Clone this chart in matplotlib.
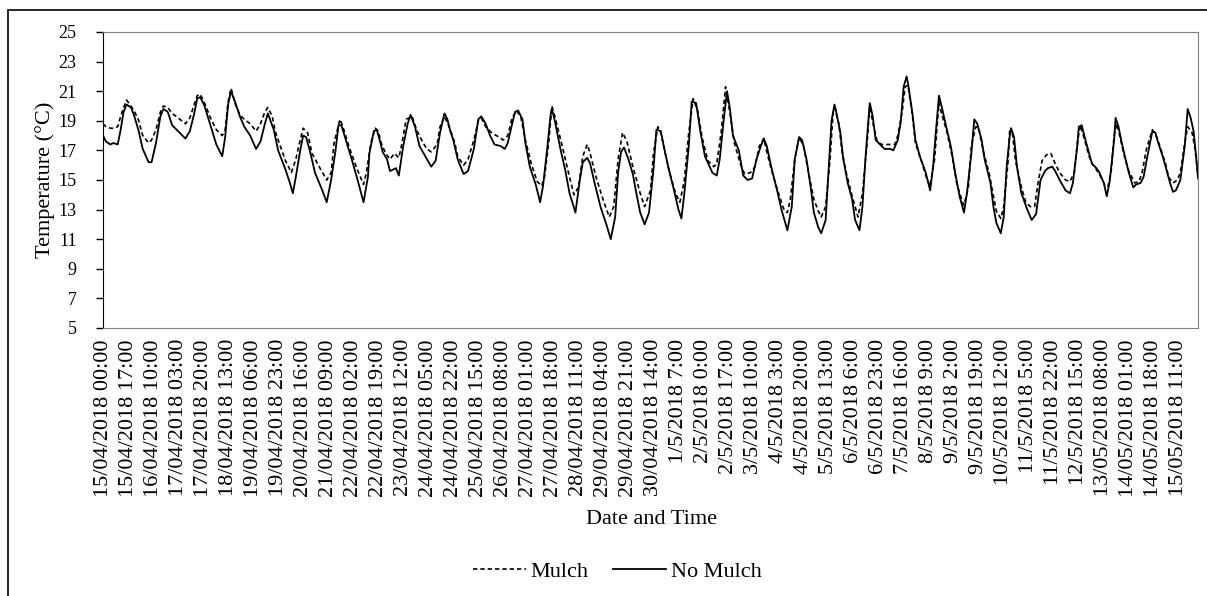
import matplotlib.pyplot as plt
from matplotlib.patches import Rectangle

plt.rcParams["font.family"] = ["Liberation Serif", "DejaVu Serif"]

# hours since 15/04/2018 00:00
nomulch_hours = [
    0, 2, 5, 7, 10, 12, 14, 16, 19, 21, 24, 27, 31, 33, 36, 39, 41, 44, 47, 51,
    56, 59, 62, 64, 66, 69, 73, 77, 81, 83, 85, 87, 90, 93, 96, 100, 104, 107, 110, 112,
    116, 119, 124, 127, 129, 131, 134, 136, 138, 141, 144, 149, 152, 155, 158, 160, 162, 165, 169, 173,
    177, 180, 181, 184, 186, 188, 190, 193, 195, 197, 199, 201, 204, 207, 209, 212, 215, 219, 223, 226,
    229, 232, 234, 236, 238, 241, 245, 248, 252, 255, 257, 260, 263, 266, 270, 273, 275, 278, 280, 282,
    285, 287, 290, 294, 297, 299, 302, 304, 305, 307, 311, 314, 317, 321, 324, 326, 329, 331, 334, 338,
    342, 345, 348, 350, 352, 354, 357, 360, 362, 365, 368, 371, 374, 376, 379, 381, 384, 388, 391, 393,
    395, 398, 400, 403, 406, 409, 414, 417, 419, 422, 424, 426, 428, 432, 435, 438, 441, 444, 447, 449,
    451, 454, 458, 461, 465, 468, 470, 473, 475, 478, 481, 483, 486, 488, 491, 493, 495, 497, 498, 501,
    503, 506, 509, 511, 514, 516, 518, 520, 521, 523, 525, 528, 531, 535, 537, 540, 542, 544, 546, 547,
    550, 552, 555, 559, 562, 564, 566, 568, 570, 572, 576, 579, 582, 585, 587, 590, 592, 594, 597, 599,
    603, 605, 607, 610, 612, 614, 616, 617, 619, 621, 624, 628, 631, 634, 637, 640, 642, 645, 647, 650,
    654, 657, 659, 662, 663, 665, 667, 670, 672, 675, 677, 680, 682, 684, 687, 688, 690, 692, 695, 697,
    700, 702, 705, 707, 710, 713, 715, 717, 720, 722, 725, 727, 729, 732, 735, 737, 739, 741, 743, 744,
]
nomulch_temp = [
    18.0, 17.6, 17.4, 17.5, 17.4, 18.4, 19.6, 20.1, 19.9, 19.4, 18.4, 17.1, 16.2, 16.2, 17.5, 19.3, 19.8, 19.6, 18.7, 18.3,
    17.8, 18.3, 19.5, 20.5, 20.6, 20.0, 18.7, 17.4, 16.6, 17.9, 20.1, 21.0, 20.2, 19.3, 18.6, 18.0, 17.1, 17.6, 18.8, 19.5,
    18.4, 17.0, 15.7, 14.8, 14.1, 15.2, 17.0, 18.0, 17.9, 16.8, 15.5, 14.3, 13.5, 15.0, 17.0, 18.7, 18.7, 17.7, 16.4, 15.0,
    13.5, 15.2, 16.8, 18.3, 18.4, 17.7, 16.9, 16.4, 15.6, 15.7, 15.8, 15.3, 17.3, 18.8, 19.4, 18.6, 17.3, 16.6, 15.9, 16.3,
    18.2, 19.5, 19.1, 18.3, 17.7, 16.4, 15.4, 15.6, 17.1, 19.1, 19.3, 18.8, 18.0, 17.4, 17.3, 17.1, 17.5, 18.8, 19.6, 19.7,
    19.1, 17.5, 15.9, 14.7, 13.5, 14.6, 17.3, 19.3, 19.8, 19.0, 17.0, 15.7, 14.1, 12.8, 15.0, 16.2, 16.5, 16.1, 14.8, 13.2,
    12.0, 11.0, 12.5, 15.5, 16.9, 17.2, 16.4, 15.4, 14.3, 12.8, 12.0, 12.8, 15.7, 18.4, 18.3, 17.3, 15.9, 14.3, 13.0, 12.4,
    14.1, 17.3, 20.3, 20.2, 18.2, 16.6, 15.5, 15.3, 16.4, 19.3, 21.0, 19.8, 18.0, 17.0, 15.3, 15.0, 15.1, 16.4, 17.3, 17.8,
    17.3, 15.9, 14.3, 13.0, 11.6, 13.2, 16.4, 17.9, 17.7, 16.4, 14.4, 12.8, 11.8, 11.4, 12.3, 15.7, 19.0, 20.1, 19.7, 18.2,
    16.4, 14.8, 13.7, 12.3, 11.6, 13.2, 16.4, 19.0, 20.2, 19.3, 17.7, 17.4, 17.1, 17.1, 17.0, 17.7, 18.9, 21.3, 22.0, 21.5,
    19.5, 17.7, 16.6, 15.5, 14.3, 15.9, 18.4, 20.7, 19.9, 19.0, 17.3, 15.5, 13.9, 12.8, 14.1, 16.8, 19.1, 18.8, 17.7, 16.4,
    14.8, 13.2, 12.1, 11.4, 12.5, 15.9, 17.9, 18.5, 17.9, 15.9, 14.1, 13.0, 12.3, 12.7, 15.0, 15.6, 15.8, 15.9, 15.6, 15.0,
    14.3, 14.1, 14.8, 17.3, 18.6, 18.7, 17.9, 16.8, 16.1, 15.8, 15.5, 14.8, 13.9, 14.9, 17.7, 19.2, 18.6, 17.6, 16.3, 15.5,
    14.5, 14.7, 14.8, 15.2, 16.8, 18.3, 18.2, 17.5, 16.6, 15.9, 14.8, 14.2, 14.3, 15.0, 17.3, 19.8, 19.2, 18.3, 16.3, 15.1,
]

mulch_hours = [
    0, 2, 5, 7, 10, 12, 14, 16, 19, 21, 24, 27, 31, 33, 36, 39, 41, 44, 47, 51,
    56, 59, 62, 64, 66, 69, 73, 77, 81, 83, 85, 87, 90, 93, 96, 100, 104, 107, 110, 112,
    115, 117, 119, 124, 128, 131, 134, 136, 139, 142, 148, 152, 155, 157, 161, 163, 167, 172, 177, 179,
    182, 185, 187, 189, 192, 195, 198, 201, 203, 206, 210, 213, 217, 220, 223, 227, 229, 232, 236, 239,
    241, 245, 248, 252, 255, 257, 260, 264, 269, 272, 275, 278, 281, 284, 287, 291, 295, 298, 300, 303,
    305, 307, 312, 316, 320, 323, 326, 329, 331, 335, 340, 344, 347, 350, 353, 356, 360, 362, 365, 368,
    372, 374, 377, 379, 382, 385, 389, 392, 395, 398, 401, 404, 407, 411, 415, 417, 420, 423, 426, 429,
    433, 436, 440, 443, 446, 449, 451, 455, 459, 463, 465, 467, 470, 473, 476, 479, 483, 486, 488, 491,
    494, 496, 497, 500, 502, 505, 508, 511, 513, 516, 519, 521, 523, 526, 529, 534, 538, 540, 543, 545,
    547, 550, 552, 556, 560, 562, 565, 568, 570, 573, 577, 580, 584, 585, 588, 590, 593, 595, 598, 602,
    605, 607, 610, 612, 615, 616, 618, 620, 624, 627, 630, 633, 635, 638, 641, 644, 647, 650, 654, 657,
    660, 662, 664, 667, 670, 672, 675, 678, 681, 683, 685, 687, 689, 691, 694, 697, 701, 704, 706, 709,
    713, 716, 719, 722, 724, 727, 730, 732, 735, 737, 740, 742, 744,
]
mulch_temp = [
    18.8, 18.6, 18.5, 18.5, 18.6, 19.3, 19.9, 20.4, 20.0, 19.7, 19.1, 18.0, 17.5, 17.7, 18.4, 19.6, 20.0, 19.9, 19.5, 19.2,
    18.8, 19.2, 20.1, 20.7, 20.8, 20.2, 19.2, 18.4, 18.0, 18.4, 20.3, 21.2, 20.1, 19.4, 19.1, 18.8, 18.3, 18.8, 19.6, 19.9,
    19.3, 18.3, 17.7, 16.3, 15.5, 16.4, 17.7, 18.5, 18.2, 16.8, 15.7, 15.0, 15.5, 17.5, 19.1, 18.6, 17.3, 15.9, 14.7, 15.5,
    17.5, 18.5, 18.3, 17.5, 16.8, 16.4, 16.8, 16.5, 17.4, 19.1, 19.3, 18.4, 17.6, 17.1, 16.9, 17.4, 18.6, 19.3, 18.4, 17.5,
    16.6, 16.0, 16.4, 17.7, 19.0, 19.2, 18.6, 18.2, 17.9, 17.7, 18.0, 19.2, 19.7, 19.2, 17.7, 16.1, 14.9, 14.6, 15.2, 17.7,
    20.0, 19.3, 17.3, 15.6, 14.0, 14.5, 16.6, 17.4, 16.8, 15.2, 13.6, 12.5, 13.2, 16.4, 18.2, 17.6, 15.9, 15.2, 14.1, 13.2,
    14.3, 16.8, 18.6, 18.2, 16.8, 15.5, 14.1, 13.5, 15.0, 18.2, 20.5, 19.7, 17.9, 16.3, 15.9, 16.1, 18.2, 21.3, 19.5, 17.5,
    16.1, 15.4, 15.5, 15.9, 17.3, 17.8, 16.9, 15.4, 14.1, 12.9, 12.8, 13.7, 16.4, 17.9, 17.3, 15.7, 13.7, 12.9, 12.5, 13.2,
    16.4, 19.5, 19.9, 18.8, 17.0, 15.5, 14.3, 13.2, 12.5, 14.1, 17.3, 20.0, 18.9, 17.6, 17.4, 17.4, 17.4, 18.0, 19.6, 21.3,
    21.4, 19.3, 17.5, 16.3, 15.0, 14.6, 16.4, 20.2, 19.4, 18.4, 16.6, 14.8, 13.5, 13.3, 14.5, 17.3, 18.6, 18.5, 17.0, 15.5,
    13.9, 12.9, 12.4, 13.2, 16.3, 18.3, 18.1, 16.3, 14.5, 13.5, 13.2, 13.2, 14.6, 16.3, 16.7, 16.8, 16.1, 15.5, 15.0, 14.9,
    15.5, 17.5, 18.7, 17.7, 16.6, 16.1, 15.7, 15.2, 14.6, 14.6, 15.6, 18.0, 18.8, 17.9, 16.6, 15.6, 14.8, 14.9, 15.5, 17.1,
    18.4, 17.9, 17.0, 16.1, 15.2, 14.8, 15.0, 15.5, 17.5, 18.6, 18.2, 17.1, 15.3,
]

# category labels shown every 17 readings
tick_labels = [
    "15/04/2018 00:00", "15/04/2018 17:00", "16/04/2018 10:00", "17/04/2018 03:00",
    "17/04/2018 20:00", "18/04/2018 13:00", "19/04/2018 06:00", "19/04/2018 23:00",
    "20/04/2018 16:00", "21/04/2018 09:00", "22/04/2018 02:00", "22/04/2018 19:00",
    "23/04/2018 12:00", "24/04/2018 05:00", "24/04/2018 22:00", "25/04/2018 15:00",
    "26/04/2018 08:00", "27/04/2018 01:00", "27/04/2018 18:00", "28/04/2018 11:00",
    "29/04/2018 04:00", "29/04/2018 21:00", "30/04/2018 14:00", "1/5/2018 7:00",
    "2/5/2018 0:00", "2/5/2018 17:00", "3/5/2018 10:00", "4/5/2018 3:00",
    "4/5/2018 20:00", "5/5/2018 13:00", "6/5/2018 6:00", "6/5/2018 23:00",
    "7/5/2018 16:00", "8/5/2018 9:00", "9/5/2018 2:00", "9/5/2018 19:00",
    "10/5/2018 12:00", "11/5/2018 5:00", "11/5/2018 22:00", "12/5/2018 15:00",
    "13/05/2018 08:00", "14/05/2018 01:00", "14/05/2018 18:00", "15/05/2018 11:00",
]
last_hour = 744

fig = plt.figure(figsize=(12.07, 5.96), dpi=100)
ax = fig.add_axes([103 / 1207, 268 / 596, 1095 / 1207, 296 / 596])

ax.plot(mulch_hours, mulch_temp, color="black", linewidth=1.2,
        linestyle=(0, (2.6, 1.8)), label="Mulch")
ax.plot(nomulch_hours, nomulch_temp, color="black", linewidth=1.3,
        linestyle="-", label="No Mulch")

ax.set_xlim(0, last_hour)
ax.set_ylim(5, 25)
ax.set_yticks(range(5, 26, 2))
ax.set_xticks(range(0, 17 * len(tick_labels), 17))
ax.set_xticklabels(tick_labels, rotation=90, fontsize=16)
ax.tick_params(axis="x", length=0, pad=8)
ax.tick_params(axis="y", length=5, width=1, direction="out", pad=14, labelsize=13)

for side in ["top", "right", "bottom"]:
    ax.spines[side].set_color("#808080")
ax.spines["left"].set_color("black")

fig.text(45 / 1207, 1 - 180 / 596, "Temperature (°C)", rotation=90,
         ha="center", va="center", fontsize=16)
fig.text(651 / 1207, 1 - 519 / 596, "Date and Time",
         ha="center", va="center", fontsize=16)

fig.legend(loc="center", bbox_to_anchor=(617 / 1207, 1 - 572 / 596), ncol=2,
           frameon=False, fontsize=16, handlelength=2.4, handletextpad=0.2,
           columnspacing=1.1)

# chart area border
fig.patches.append(Rectangle((8 / 1207, -0.05), 1.1, 1 - 10 / 596 + 0.05,
                             transform=fig.transFigure, fill=False,
                             edgecolor="black", linewidth=1.2))

fig.savefig("out.png", dpi=100)
